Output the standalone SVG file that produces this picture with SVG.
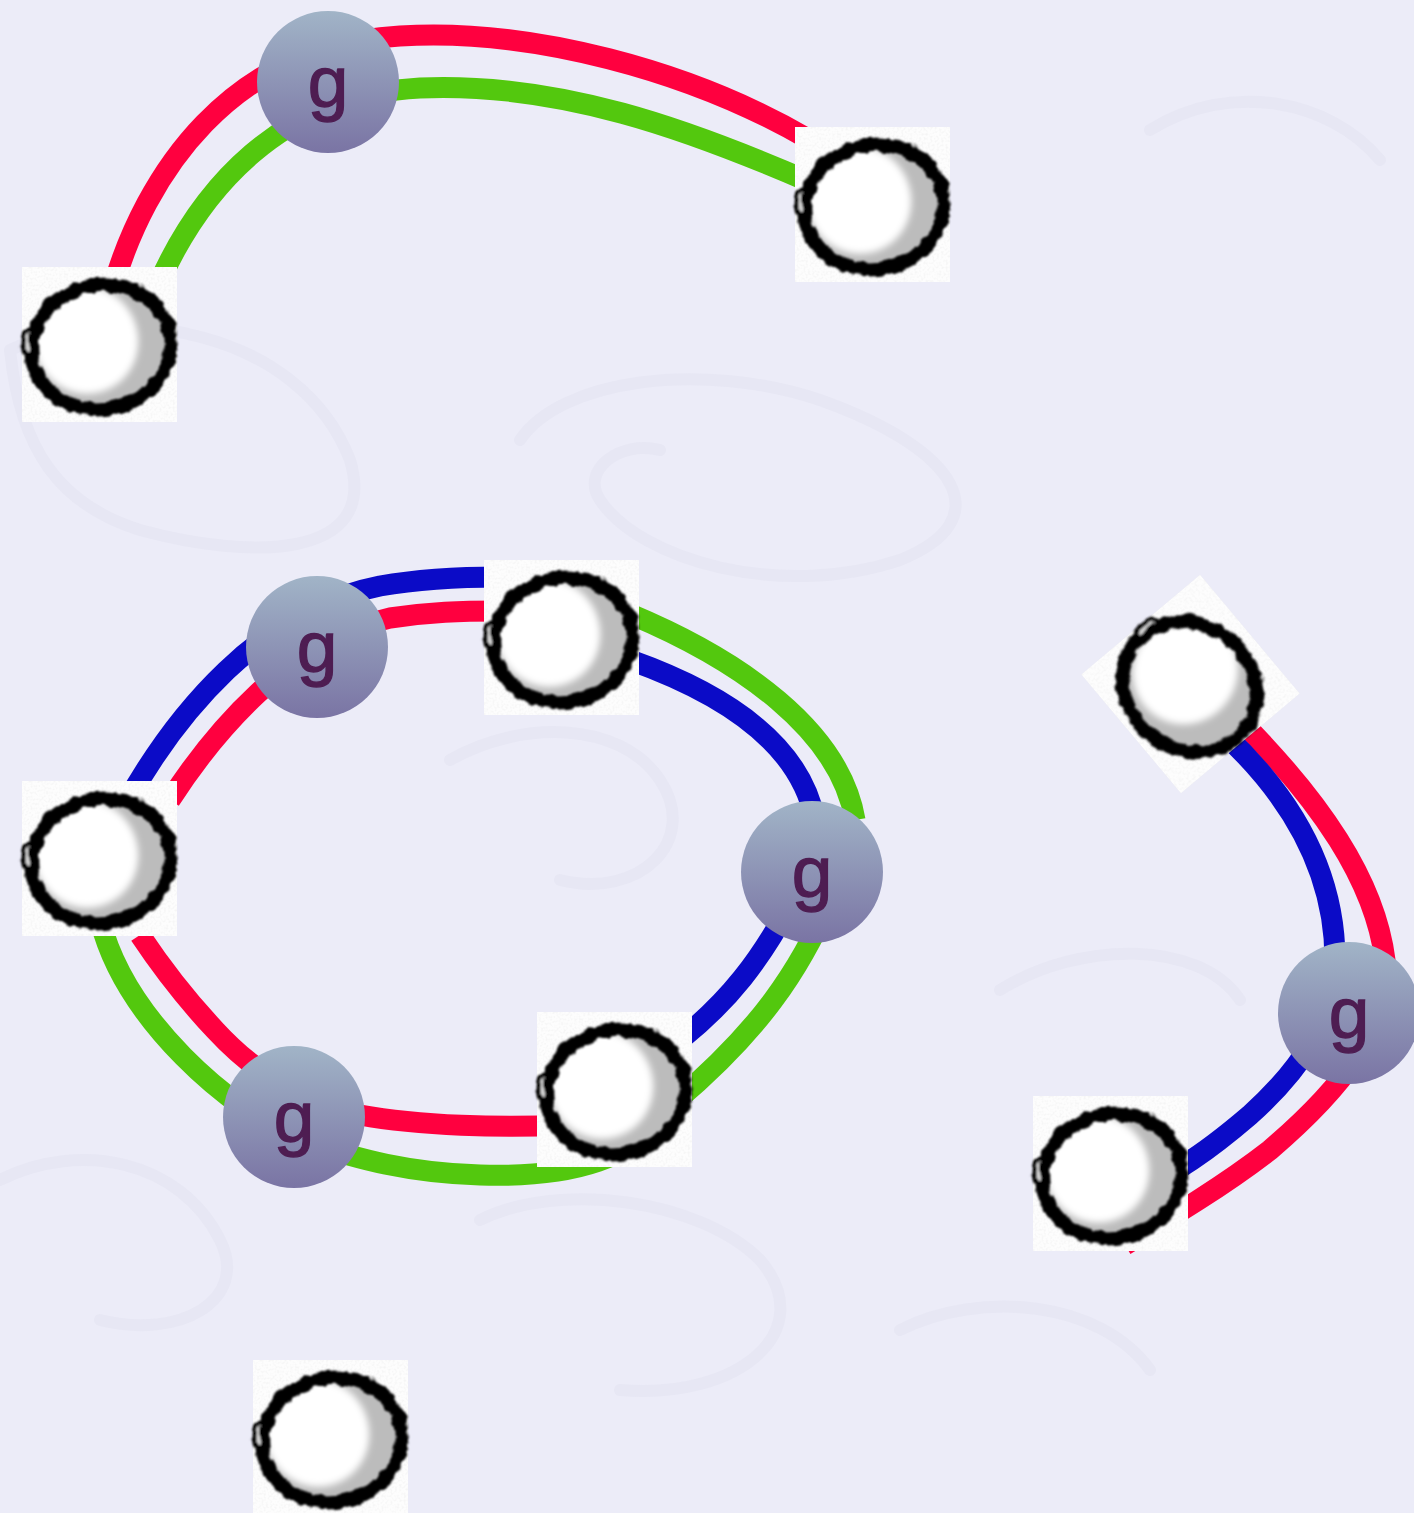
<svg xmlns="http://www.w3.org/2000/svg" xmlns:xlink="http://www.w3.org/1999/xlink" width="1414" height="1513" viewBox="0 0 1414 1513">
  <style>
    .wire { fill: none; stroke-width: 21; stroke-linecap: butt; }
    .red { stroke: #ff003f; }
    .green { stroke: #53c80e; }
    .blue { stroke: #0b0bc7; }
    .hub { fill: url(#hubFill); }
    .hub-label { font-family: "Liberation Sans", Arial, sans-serif; font-size: 73px; fill: #4e1d52; stroke: #4e1d52; stroke-width: 1.3; text-anchor: middle; }
    .deco { fill: none; stroke: #e7e7f4; stroke-width: 12; stroke-linecap: round; }
  </style>
  <defs>
    <linearGradient id="hubFill" x1="0" y1="0" x2="0" y2="1">
      <stop offset="0" stop-color="#a1b4c7"/>
      <stop offset="1" stop-color="#7a74a4"/>
    </linearGradient>
    <filter id="rough" x="-10%" y="-10%" width="120%" height="120%">
      <feTurbulence type="fractalNoise" baseFrequency="0.1" numOctaves="2" seed="4" result="noise"/>
      <feDisplacementMap in="SourceGraphic" in2="noise" scale="7" xChannelSelector="R" yChannelSelector="G"/>
      <feGaussianBlur stdDeviation="1"/>
    </filter>
    <filter id="soft" x="-20%" y="-20%" width="140%" height="140%">
      <feGaussianBlur stdDeviation="3.5"/>
    </filter>
    <filter id="grain" x="0" y="0" width="100%" height="100%">
      <feTurbulence type="fractalNoise" baseFrequency="0.45" numOctaves="1" seed="7" result="n"/>
      <feColorMatrix in="n" type="matrix" values="0 0 0 0 0.5  0 0 0 0 0.5  0 0 0 0 0.5  0 0 0 -1.6 0.9"/>
    </filter>
    <!-- hand-drawn ball tile, 155 x 155 -->
    <g id="ball">
      <rect width="155" height="155" fill="#fdfdfd"/>
      <rect width="155" height="155" filter="url(#grain)" opacity="0.2"/>
      <ellipse cx="79" cy="80" rx="70" ry="61" transform="rotate(-12 79 80)" fill="#bcbcbc"/>
      <ellipse cx="64" cy="73" rx="52" ry="54" transform="rotate(-20 64 73)" fill="#ffffff" filter="url(#soft)"/>
      <g filter="url(#rough)">
        <ellipse cx="79" cy="80" rx="70" ry="62" transform="rotate(-12 79 80)" fill="none" stroke="#050505" stroke-width="14"/>
        <ellipse cx="6" cy="76" rx="5" ry="13" fill="#d6d6d6" stroke="#050505" stroke-width="5"/>
      </g>
    </g>
  </defs>

  <!-- backdrop -->
  <rect width="1414" height="1513" fill="#ececf8"/>
  <g id="backdrop-ornament">
    <path class="deco" d="M 10 350 C 120 300 300 330 350 460 C 380 560 250 560 140 530 C 60 505 20 450 10 350"/>
    <path class="deco" d="M 520 440 C 560 380 700 360 820 400 C 960 450 1000 520 900 560 C 780 600 640 560 600 500 C 580 470 620 440 660 450"/>
    <path class="deco" d="M 450 760 C 520 720 620 720 660 780 C 700 840 640 900 560 880"/>
    <path class="deco" d="M 480 1220 C 560 1180 700 1200 760 1260 C 820 1330 740 1400 620 1390"/>
    <path class="deco" d="M 1000 990 C 1080 940 1200 940 1240 1000"/>
    <path class="deco" d="M 0 1180 C 80 1140 180 1160 220 1240 C 250 1300 180 1340 100 1320"/>
    <path class="deco" d="M 1150 130 C 1230 80 1330 100 1380 160"/>
    <path class="deco" d="M 900 1330 C 980 1290 1100 1300 1150 1370"/>
  </g>

  <!-- connectors -->
  <g id="connectors">
    <!-- top: ball 1 to hub 1 to ball 2 -->
    <path class="wire red" d="M 112 290 C 145 175 230 45 400 36 C 530 28 690 70 810 140"/>
    <path class="wire green" d="M 158 285 C 200 190 280 95 420 88 C 560 82 690 130 810 182"/>

    <!-- ring: ball 4, hub 2, ball 3 -->
    <path class="wire blue" d="M 125 805 C 175 715 260 610 380 586 C 420 579 460 577 500 577"/>
    <path class="wire red" d="M 170 800 C 212 735 290 640 390 618 C 430 612 460 611 500 611"/>
    <!-- ring: ball 3 to hub 3 -->
    <path class="wire green" d="M 630 614 C 740 660 840 730 855 820"/>
    <path class="wire blue" d="M 630 660 C 720 692 800 742 815 820"/>
    <!-- ring: hub 3 to ball 5 -->
    <path class="wire green" d="M 830 900 C 800 970 760 1030 675 1102"/>
    <path class="wire blue" d="M 790 905 C 760 960 730 1000 680 1040"/>
    <!-- ring: ball 5, hub 4, ball 4 -->
    <path class="wire green" d="M 675 1102 C 640 1160 570 1178 480 1175 C 410 1173 360 1160 300 1140 C 230 1110 125 1020 100 920"/>
    <path class="wire red" d="M 570 1125 C 500 1128 420 1126 360 1115 C 300 1104 250 1068 215 1030 C 185 998 160 965 140 935"/>

    <!-- right: ball 8, hub 5, ball 6 -->
    <path class="wire red" d="M 1235 715 C 1320 800 1375 880 1385 960 C 1390 1030 1340 1090 1270 1150 C 1225 1185 1170 1218 1125 1245"/>
    <path class="wire blue" d="M 1225 735 C 1300 805 1335 880 1335 960 C 1335 1020 1300 1070 1250 1115 C 1215 1145 1170 1180 1130 1190"/>
  </g>

  <!-- ball nodes -->
  <g id="ball-1"><use href="#ball" xlink:href="#ball" x="22" y="267"/></g>
  <g id="ball-2"><use href="#ball" xlink:href="#ball" x="795" y="127"/></g>
  <g id="ball-3"><use href="#ball" xlink:href="#ball" x="484" y="560"/></g>
  <g id="ball-4"><use href="#ball" xlink:href="#ball" x="22" y="781"/></g>
  <g id="ball-5"><use href="#ball" xlink:href="#ball" x="537" y="1012"/></g>
  <g id="ball-6"><use href="#ball" xlink:href="#ball" x="1033" y="1096"/></g>
  <g id="ball-7"><use href="#ball" xlink:href="#ball" x="253" y="1360"/></g>
  <g id="ball-8"><use href="#ball" xlink:href="#ball" transform="translate(1190.5 684) rotate(50) translate(-77.5 -77.5)"/></g>

  <!-- hub nodes -->
  <g id="hub-1">
    <circle class="hub" cx="328" cy="82" r="71"/>
    <text class="hub-label" x="328" y="107">g</text>
  </g>
  <g id="hub-2">
    <circle class="hub" cx="317" cy="647" r="71"/>
    <text class="hub-label" x="317" y="672">g</text>
  </g>
  <g id="hub-3">
    <circle class="hub" cx="812" cy="872" r="71"/>
    <text class="hub-label" x="812" y="897">g</text>
  </g>
  <g id="hub-4">
    <circle class="hub" cx="294" cy="1117" r="71"/>
    <text class="hub-label" x="294" y="1142">g</text>
  </g>
  <g id="hub-5">
    <circle class="hub" cx="1349" cy="1013" r="71"/>
    <text class="hub-label" x="1349" y="1038">g</text>
  </g>
</svg>
